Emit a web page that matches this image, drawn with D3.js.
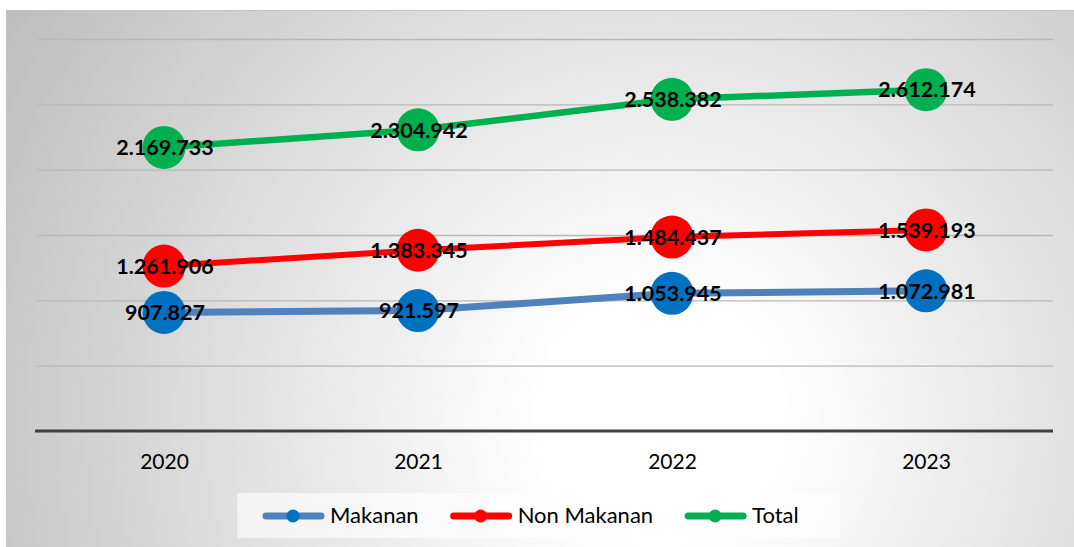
<!DOCTYPE html>
<html>
<head>
<meta charset="utf-8">
<script src="https://cdn.jsdelivr.net/npm/d3@7"></script>
<style>
  body { margin: 0; background: #fff; }
  svg { display: block; font-family: Lato, "Open Sans", sans-serif; }
</style>
</head>
<body>
<div id="chart-area"></div>
<script>
// data
const years = ["2020", "2021", "2022", "2023"]
const makanan = [907827, 921597, 1053945, 1072981]
const nonMakanan = [1261906, 1383345, 1484437, 1539193]
const total = [2169733, 2304942, 2538382, 2612174]
const seriesNames = ["Makanan", "Non Makanan", "Total"]
const yTicks = [500000, 1000000, 1500000, 2000000, 2500000, 3000000]

const W = 1074
const H = 547
const PLOT = { LEFT: 37, RIGHT: 1053, TOP: 39, BOTTOM: 431 }

const series = [
  { name: seriesNames[0], values: makanan, line: "#4F81BD", dot: "#0070C0", width: 7 },
  { name: seriesNames[1], values: nonMakanan, line: "#FF0000", dot: "#FF0000", width: 6 },
  { name: seriesNames[2], values: total, line: "#00B050", dot: "#00B050", width: 6.5 }
]

const svg = d3.select("#chart-area").append("svg")
  .attr("width", W)
  .attr("height", H)

// background gradient
const defs = svg.append("defs")
const grad = defs.append("radialGradient")
  .attr("id", "bg")
  .attr("gradientUnits", "userSpaceOnUse")
  .attr("cx", 660).attr("cy", 420).attr("r", 800)
grad.append("stop").attr("offset", 0).attr("stop-color", "#ffffff")
grad.append("stop").attr("offset", 0.15).attr("stop-color", "#ffffff")
grad.append("stop").attr("offset", 1).attr("stop-color", "#bababa")

svg.append("rect")
  .attr("x", 6.5).attr("y", 10.5)
  .attr("width", W).attr("height", H)
  .attr("fill", "url(#bg)")
  .attr("stroke", "#c4c4c4")

const x = d3.scalePoint()
  .domain(years)
  .range([PLOT.LEFT, PLOT.RIGHT])
  .padding(0.5)

const y = d3.scaleLinear()
  .domain([0, 3000000])
  .range([PLOT.BOTTOM, PLOT.TOP])

// gridlines
const grid = svg.append("g")
  .attr("transform", `translate(${PLOT.LEFT}, 0)`)
  .call(d3.axisLeft(y).tickValues(yTicks).tickSize(-(PLOT.RIGHT - PLOT.LEFT)).tickFormat(""))
grid.select(".domain").remove()
grid.selectAll(".tick line")
  .attr("stroke", "#b8b8b8")
  .attr("stroke-width", 1.3)

// x axis
const xAxis = svg.append("g")
  .attr("transform", `translate(0, ${PLOT.BOTTOM})`)
  .call(d3.axisBottom(x).tickSize(0).tickPadding(23))
xAxis.select(".domain")
  .attr("d", `M${PLOT.LEFT - 2},0H${PLOT.RIGHT}`)
  .attr("stroke", "#404040")
  .attr("stroke-width", 3)
xAxis.selectAll("text")
  .attr("font-family", "Lato, sans-serif")
  .attr("font-size", "21px")
  .attr("fill", "#000")

// lines
const line = d3.line()
  .x((d, i) => x(years[i]))
  .y(d => y(d))

series.forEach(s => {
  svg.append("path")
    .datum(s.values)
    .attr("fill", "none")
    .attr("stroke", s.line)
    .attr("stroke-width", s.width)
    .attr("stroke-linejoin", "round")
    .attr("d", line)
})

// markers
series.forEach(s => {
  svg.append("g").selectAll("circle")
    .data(s.values)
    .join("circle")
    .attr("cx", (d, i) => x(years[i]))
    .attr("cy", d => y(d))
    .attr("r", 21.5)
    .attr("fill", s.dot)
})

// labels
const fmt = d3.formatLocale({ decimal: ",", thousands: ".", grouping: [3], currency: ["", ""] }).format(",d")
series.forEach(s => {
  svg.append("g").selectAll("text")
    .data(s.values)
    .join("text")
    .attr("x", (d, i) => x(years[i]) + 1)
    .attr("y", d => y(d))
    .attr("dy", "0.36em")
    .attr("text-anchor", "middle")
    .attr("font-size", "21.5px")
    .attr("font-weight", "bold")
    .attr("fill", "#000")
    .text(d => fmt(d))
})

// legend
const legend = svg.append("g")
legend.append("rect")
  .attr("x", 237).attr("y", 493)
  .attr("width", 603).attr("height", 45)
  .attr("fill", "#ffffff")
  .attr("fill-opacity", 0.6)

let lx = 266
series.forEach(s => {
  const item = legend.append("g").attr("transform", `translate(${lx}, 516)`)
  item.append("line")
    .attr("x1", 0).attr("x2", 55)
    .attr("stroke", s.line)
    .attr("stroke-width", 7)
    .attr("stroke-linecap", "round")
  item.append("circle")
    .attr("cx", 27).attr("r", 6.5)
    .attr("fill", s.dot)
  const t = item.append("text")
    .attr("x", 64).attr("y", 7)
    .attr("font-size", "22px")
    .attr("fill", "#000")
    .text(s.name)
  lx += 64 + t.node().getComputedTextLength() + 35
})
</script>
</body>
</html>
